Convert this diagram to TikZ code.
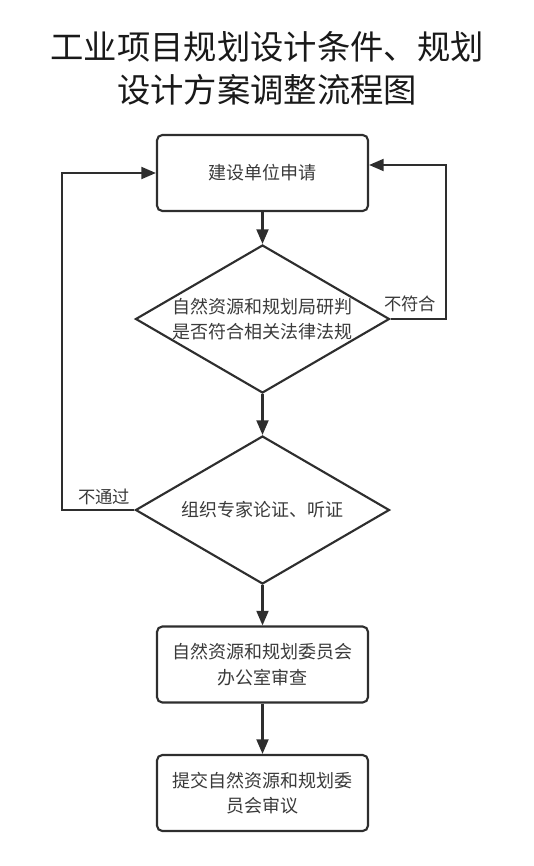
\documentclass[tikz,border=0pt]{standalone}
\usepackage{fontspec}
\setmainfont{Noto Sans CJK SC}
\usetikzlibrary{arrows.meta,shapes.geometric}
\definecolor{ln}{HTML}{2E2E2E}
\definecolor{tx}{HTML}{3A3A3A}
\tikzset{
  box/.style={draw=ln,line width=1.6pt,rounded corners=4pt,minimum width=211*0.75pt,minimum height=76*0.75pt,inner sep=0pt,align=center,text=tx,font=\fontsize{13.5pt}{19pt}\selectfont},
  dia/.style={draw=ln,line width=1.6pt,diamond,aspect=1.72,minimum width=254*0.75pt,minimum height=148*0.75pt,inner sep=0pt,align=center,text=tx,font=\fontsize{13.5pt}{19pt}\selectfont},
  conn/.style={draw=ln,line width=1.6pt,-{Triangle[length=11pt,width=9pt]}},
  lab/.style={text=tx,font=\fontsize{13pt}{15pt}\selectfont,inner sep=0pt},
  ttl/.style={text=black!90,font=\fontsize{25pt}{32pt}\selectfont,inner sep=0pt}
}
\begin{document}
\begin{tikzpicture}[x=0.75pt,y=-0.75pt]
\useasboundingbox (0,0) rectangle (534,866);
\node[ttl] (t1) at (267,47) {工业项目规划设计条件、规划};
\node[ttl] (t2) at (267,90) {设计方案调整流程图};
\node[box] (b1) at (262.5,173) {建设单位申请};
\node[dia] (d1) at (262.5,319) {自然资源和规划局研判\\是否符合相关法律法规};
\node[dia] (d2) at (262.5,510) {组织专家论证、听证};
\node[box] (b3) at (262.5,664.5) {自然资源和规划委员会\\办公室审查};
\node[box] (b4) at (262.5,793) {提交自然资源和规划委\\员会审议};
\coordinate (r1) at (446,319);
\coordinate (r2) at (446,165);
\coordinate (l1) at (62,510);
\coordinate (l2) at (62,173);
\draw[conn] (b1.south) -- (d1.north);
\draw[conn] (d1.south) -- (d2.north);
\draw[conn] (d2.south) -- (b3.north);
\draw[conn] (b3.south) -- (b4.north);
\draw[conn] (d1.east) -- (r1) -- (r2) -- (b1.east |- r2);
\draw[conn] (d2.west) -- (l1) -- (l2) -- (b1.west);
\node[lab] (n1) at (410,304) {不符合};
\node[lab] (n2) at (104,497) {不通过};
\end{tikzpicture}
\end{document}
